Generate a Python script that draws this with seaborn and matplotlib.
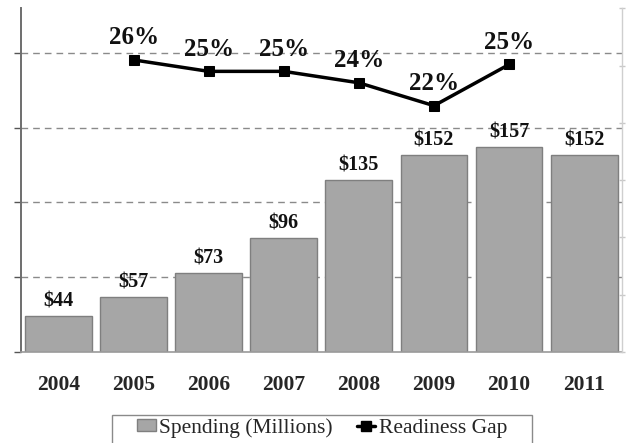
import math
import matplotlib
matplotlib.use("Agg")
import matplotlib.pyplot as plt
from matplotlib.patches import Patch, Rectangle
from matplotlib.lines import Line2D
import pandas as pd
import seaborn as sns

# Spending per year (millions of dollars)
years = ["2004", "2005", "2006", "2007", "2008", "2009", "2010", "2011"]
spending = [44, 57, 73, 96, 135, 152, 157, 152]

# Readiness gap (percent)
gap_years = ["2005", "2006", "2007", "2008", "2009", "2010"]
gap_values = [25.5, 24.5, 24.5, 23.5, 21.5, 25.1]

sns.set_style("white")
plt.rcParams["font.family"] = ["Liberation Serif", "DejaVu Serif"]

BAR_COLOR = "#a6a6a6"
BAR_EDGE = "#7f7f7f"

df = pd.DataFrame({"year": years, "spending": spending})
gap_df = pd.DataFrame({
    "pos": [years.index(y) for y in gap_years],
    "gap": gap_values,
})

fig = plt.figure(figsize=(6.28, 4.43), dpi=100)
ax = fig.add_axes([0.0334, 0.206, 0.9566, 0.775])

sns.barplot(data=df, x="year", y="spending", order=years, color=BAR_COLOR,
            edgecolor=BAR_EDGE, linewidth=1.0, width=0.89, saturation=1,
            ax=ax, zorder=2)

ax.set_xlim(-0.5, len(years) - 0.5)
ax.set_ylim(20, 250)
ax.set_yticks([20, 70, 120, 170, 220])
ax.set_yticklabels([])
ax.set_xlabel("")
ax.set_ylabel("")

# dashed horizontal gridlines
for yv in [70, 120, 170, 220]:
    ax.axhline(yv, color="#8a8a8a", lw=1.0, dashes=(4.8, 3.6), zorder=1)

# x: labels at category centres, tick marks on category boundaries
ax.set_xticks(range(len(years)))
ax.set_xticklabels(years, fontsize=15.5, fontweight="bold")
ax.tick_params(axis="x", which="major", length=0, pad=16.5)
ax.set_xticks([i - 0.5 for i in range(len(years) + 1)], minor=True)
ax.tick_params(axis="x", which="minor", length=5, width=1, color="#8a8a8a",
               direction="out")
ax.tick_params(axis="y", length=5, width=1, color="#555555", direction="out")

for side in ["top", "right"]:
    ax.spines[side].set_visible(False)
ax.spines["left"].set_color("#6e6e6e")
ax.spines["left"].set_linewidth(1.4)
ax.spines["bottom"].set_color("#9a9a9a")
ax.spines["bottom"].set_linewidth(1.2)
ax.spines["left"].set_zorder(5)
ax.spines["bottom"].set_zorder(5)

# value labels above bars
for i, v in enumerate(spending):
    ax.annotate(f"${v}", xy=(i, v), xytext=(0, 10.4), textcoords="offset points",
                ha="center", va="center", fontsize=14.5, fontweight="bold",
                color="#111111", zorder=6)

# secondary axis with the readiness gap line
ax2 = ax.twinx()
sns.lineplot(data=gap_df, x="pos", y="gap", ax=ax2, color="black", lw=2.5,
             marker="s", markersize=7.5, markeredgecolor="black", zorder=4)
ax2.set_ylim(0, 30)
ax2.set_yticks(range(0, 31, 5))
ax2.set_yticklabels([])
ax2.set_ylabel("")
ax2.set_xlabel("")
ax2.set_xlim(-0.5, len(years) - 0.5)
ax2.tick_params(axis="y", length=5, width=1, color="#c8c8c8", direction="inout")
for side in ["top", "left", "bottom"]:
    ax2.spines[side].set_visible(False)
ax2.spines["right"].set_color("#cfcfcf")
ax2.spines["right"].set_linewidth(1.0)

for p, g in zip(gap_df["pos"], gap_df["gap"]):
    ax2.annotate(f"{math.floor(g + 0.5)}%", xy=(p, g), xytext=(0, 16),
                 textcoords="offset points", ha="center", va="center",
                 fontsize=18, fontweight="bold", color="#111111")

# legend at the bottom
handles = [
    Patch(facecolor=BAR_COLOR, edgecolor=BAR_EDGE, linewidth=1.0,
          label="Spending (Millions)"),
    Line2D([0], [0], color="black", lw=2.5, marker="s", markersize=6.5,
           label="Readiness Gap"),
]
fig.legend(handles=handles, loc="center", bbox_to_anchor=(0.513, 0.034),
           ncol=2, frameon=False, fontsize=15.5, handlelength=0.85,
           handleheight=0.45, handletextpad=0.15, columnspacing=1.15,
           borderpad=0.0, borderaxespad=0.0)
fig.patches.append(Rectangle((111.7 / 628, -0.05), (532 - 111.7) / 628,
                             0.05 + (443 - 415) / 443,
                             transform=fig.transFigure, fill=False,
                             edgecolor="#8a8a8a", linewidth=1.0))

fig.savefig("out.png", dpi=100, facecolor="white")
